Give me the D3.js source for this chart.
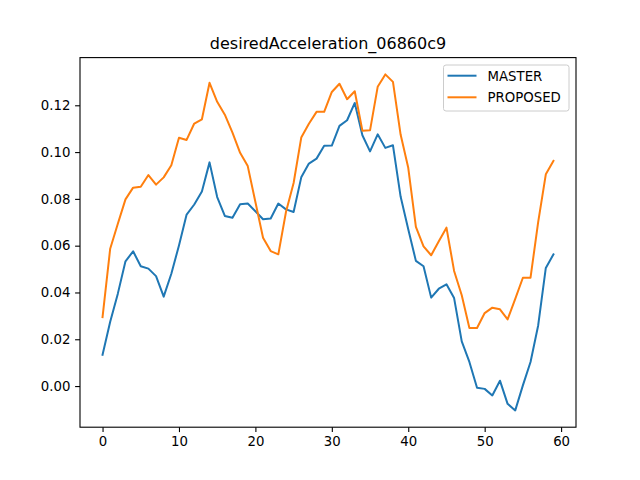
<!DOCTYPE html>
<html>
<head>
<meta charset="utf-8">
<script src="https://cdn.jsdelivr.net/npm/d3@7"></script>
<style>
  body { margin: 0; background: #fff; }
  svg { font-family: "DejaVu Sans", sans-serif; }
</style>
</head>
<body>
<script>
var title = "desiredAcceleration_06860c9";
var seriesNames = ["MASTER", "PROPOSED"];
var seriesColors = ["#1f77b4", "#ff7f0e"];

var master = [
  0.0134, 0.0275, 0.0395, 0.0533, 0.0576, 0.0512, 0.0502, 0.0470, 0.0382, 0.0480,
  0.0601, 0.0733, 0.0776, 0.0832, 0.0956, 0.0808, 0.0727, 0.0719, 0.0777, 0.0780,
  0.0747, 0.0713, 0.0716, 0.0780, 0.0755, 0.0744, 0.0892, 0.0951, 0.0972, 0.1027,
  0.1028, 0.1112, 0.1136, 0.1210, 0.1072, 0.1003, 0.1076, 0.1018, 0.1029, 0.0810,
  0.0670, 0.0535, 0.0512, 0.0378, 0.0416, 0.0435, 0.0376, 0.0191, 0.0103, -0.0007,
  -0.0012, -0.0040, 0.0023, -0.0076, -0.0104, 0.0003, 0.0103, 0.0259, 0.0505, 0.0563
];
var proposed = [
  0.0295, 0.0587, 0.0694, 0.0798, 0.0848, 0.0852, 0.0902, 0.0861, 0.0892, 0.0944,
  0.1061, 0.1052, 0.1122, 0.1140, 0.1296, 0.1215, 0.1160, 0.1083, 0.0997, 0.0940,
  0.0787, 0.0634, 0.0577, 0.0563, 0.0744, 0.0868, 0.1062, 0.1121, 0.1172, 0.1172,
  0.1257, 0.1292, 0.1226, 0.1260, 0.1091, 0.1093, 0.1279, 0.1332, 0.1300, 0.1075,
  0.0933, 0.0680, 0.0597, 0.0559, 0.0619, 0.0677, 0.0492, 0.0388, 0.0248, 0.0248,
  0.0312, 0.0335, 0.0328, 0.0285, 0.0373, 0.0463, 0.0463, 0.0701, 0.0905, 0.0962
];
var xTicks = [0, 10, 20, 30, 40, 50, 60];
var yTicks = [0.00, 0.02, 0.04, 0.06, 0.08, 0.10, 0.12];

var width = 640, height = 480;
var plotLeft = 80, plotRight = 576, plotTop = 57.6, plotBottom = 427.2;

var allSeries = [master, proposed];
var n = master.length;

var xMin = 0, xMax = n - 1;
var xPad = (xMax - xMin) * 0.05;
var xScale = d3.scaleLinear()
  .domain([xMin - xPad, xMax + xPad])
  .range([plotLeft, plotRight]);

var yExt = d3.extent(master.concat(proposed));
var yPad = (yExt[1] - yExt[0]) * 0.05;
var yScale = d3.scaleLinear()
  .domain([yExt[0] - yPad, yExt[1] + yPad])
  .range([plotBottom, plotTop]);

var svg = d3.select("body").append("svg")
  .attr("width", width)
  .attr("height", height);

var line = d3.line()
  .x(function(d, i) { return xScale(i); })
  .y(function(d) { return yScale(d); });

svg.append("clipPath").attr("id", "plotclip")
  .append("rect")
  .attr("x", plotLeft).attr("y", plotTop)
  .attr("width", plotRight - plotLeft).attr("height", plotBottom - plotTop);

svg.selectAll("path.series")
  .data(allSeries)
  .enter()
  .append("path")
  .attr("class", "series")
  .attr("d", line)
  .attr("fill", "none")
  .attr("stroke", function(d, i) { return seriesColors[i]; })
  .attr("stroke-width", 2)
  .attr("stroke-linejoin", "round")
  .attr("stroke-linecap", "square")
  .attr("clip-path", "url(#plotclip)");

// axes
var xAxis = d3.axisBottom(xScale)
  .tickValues(xTicks)
  .tickSize(4.9)
  .tickPadding(4.7)
  .tickFormat(d3.format("d"));

var yAxis = d3.axisLeft(yScale)
  .tickValues(yTicks)
  .tickSize(4.9)
  .tickPadding(4.7)
  .tickFormat(d3.format(".2f"));

var gx = svg.append("g")
  .attr("transform", `translate(0, ${plotBottom})`)
  .call(xAxis);
var gy = svg.append("g")
  .attr("transform", `translate(${plotLeft}, 0)`)
  .call(yAxis);

[gx, gy].forEach(function(g) {
  g.select(".domain").remove();
  g.selectAll(".tick line").attr("stroke", "#000").attr("stroke-width", 1.1);
  g.selectAll(".tick text")
    .attr("fill", "#000")
    .style("font-size", "13.3px")
    .style("font-family", "DejaVu Sans");
});

// frame
svg.append("rect")
  .attr("x", plotLeft).attr("y", plotTop)
  .attr("width", plotRight - plotLeft).attr("height", plotBottom - plotTop)
  .attr("fill", "none")
  .attr("stroke", "#000")
  .attr("stroke-width", 1.1);

// title
svg.append("text")
  .attr("x", (plotLeft + plotRight) / 2)
  .attr("y", 49)
  .attr("text-anchor", "middle")
  .style("font-size", "16px")
  .text(title);

// legend
var legend = svg.append("g");
legend.append("rect")
  .attr("x", 443.5).attr("y", 65)
  .attr("width", 125.5).attr("height", 46)
  .attr("rx", 2.5)
  .attr("fill", "#fff")
  .attr("fill-opacity", 0.8)
  .attr("stroke", "#cccccc")
  .attr("stroke-width", 1);

var items = legend.selectAll("g.item")
  .data(seriesNames)
  .enter()
  .append("g")
  .attr("class", "item")
  .attr("transform", function(d, i) { return `translate(0, ${75.7 + i * 21.6})`; });

items.append("line")
  .attr("x1", 447.5).attr("x2", 476.5)
  .attr("y1", 0).attr("y2", 0)
  .attr("stroke", function(d, i) { return seriesColors[i]; })
  .attr("stroke-width", 2);

items.append("text")
  .attr("x", 487.5)
  .attr("y", 4.8)
  .style("font-size", "13.3px")
  .text(function(d) { return d; });
</script>
</body>
</html>
